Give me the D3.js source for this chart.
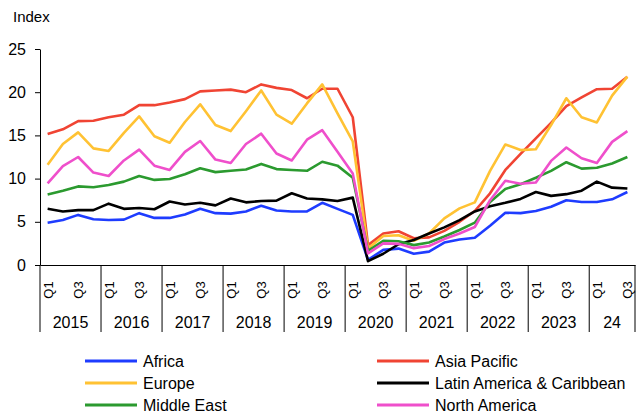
<!DOCTYPE html>
<html>
<head>
<meta charset="utf-8">
<script src="https://cdn.jsdelivr.net/npm/d3@7"></script>
<style>
  body { margin: 0; background: #fff; }
  svg { font-family: "Liberation Sans", Arial, sans-serif; }
  .eixo-texto { fill: #000; }
</style>
</head>
<body>
<div id="chart-container"></div>
<script>
// Anos e rótulos do eixo X (último ano aparece abreviado)
const anos = [2015, 2016, 2017, 2018, 2019, 2020, 2021, 2022, 2023, 2024];
const rotulosAno = ['2015', '2016', '2017', '2018', '2019', '2020', '2021', '2022', '2023', '24'];
const trimestresPorAno = [4, 4, 4, 4, 4, 4, 4, 4, 4, 3];
const rotulosTrimestre = ['Q1', '', 'Q3', ''];
const ticksY = [0, 5, 10, 15, 20, 25];

// Séries (valores trimestrais, 2015 Q1 .. 2024 Q3)
const africa = [4.9, 5.2, 5.8, 5.3, 5.2, 5.25, 6.0, 5.45, 5.45, 5.85, 6.5, 6.0,
  5.95, 6.2, 6.85, 6.3, 6.2, 6.2, 7.2, 6.5, 5.8, 0.6, 1.75, 1.9,
  1.3, 1.55, 2.6, 2.95, 3.15, 4.55, 6.05, 6.0, 6.25, 6.75, 7.5, 7.3, 7.3, 7.6, 8.45];
const asiaPacific = [15.15, 15.7, 16.65, 16.7, 17.1, 17.4, 18.5, 18.5, 18.8, 19.2, 20.1, 20.2,
  20.3, 20.0, 20.9, 20.5, 20.25, 19.3, 20.4, 20.4, 17.1, 2.3, 3.65, 3.9,
  3.1, 3.2, 3.95, 5.0, 6.25, 8.3, 11.0, 12.85, 14.65, 16.45, 18.4, 19.4, 20.35, 20.4, 21.8];
const europe = [11.6, 14.0, 15.35, 13.5, 13.2, 15.3, 17.2, 14.9, 14.15, 16.55, 18.6, 16.2,
  15.5, 17.8, 20.2, 17.4, 16.35, 18.7, 20.9, 17.55, 14.3, 1.9, 3.35, 3.45,
  2.8, 3.65, 5.4, 6.55, 7.25, 10.9, 13.95, 13.3, 13.4, 16.2, 19.3, 17.1, 16.5, 19.6, 21.8];
const latinAmerica = [6.5, 6.2, 6.35, 6.35, 7.1, 6.5, 6.6, 6.45, 7.35, 7.0, 7.2, 6.9,
  7.7, 7.25, 7.4, 7.45, 8.3, 7.7, 7.6, 7.4, 7.8, 0.45, 1.3, 2.4,
  2.9, 3.65, 4.35, 5.2, 6.2, 6.8, 7.2, 7.65, 8.45, 8.0, 8.2, 8.6, 9.65, 8.95, 8.85];
const middleEast = [8.15, 8.6, 9.1, 9.0, 9.25, 9.65, 10.3, 9.85, 9.95, 10.5, 11.2, 10.75,
  10.9, 11.05, 11.7, 11.1, 11.0, 10.9, 11.95, 11.5, 10.1, 1.65, 2.8, 2.75,
  2.3, 2.6, 3.3, 4.05, 4.9, 7.3, 8.8, 9.35, 10.1, 10.9, 11.9, 11.15, 11.25, 11.75, 12.5];
const northAmerica = [9.45, 11.45, 12.5, 10.7, 10.3, 12.1, 13.35, 11.5, 11.0, 13.1, 14.35, 12.2,
  11.8, 14.0, 15.2, 12.9, 12.1, 14.5, 15.6, 13.1, 10.6, 1.35, 2.5, 2.45,
  1.95, 2.2, 3.0, 3.65, 4.4, 7.5, 9.75, 9.4, 9.55, 12.05, 13.6, 12.35, 11.8, 14.25, 15.5];

const series = [
  { nome: 'Africa', cor: '#1e3cff', valores: africa },
  { nome: 'Asia Pacific', cor: '#f04433', valores: asiaPacific },
  { nome: 'Europe', cor: '#ffc233', valores: europe },
  { nome: 'Latin America & Caribbean', cor: '#000000', valores: latinAmerica },
  { nome: 'Middle East', cor: '#2b9a2f', valores: middleEast },
  { nome: 'North America', cor: '#ef4fcb', valores: northAmerica }
];

// categorias: um identificador por trimestre
const trimestres = [];
anos.forEach((a, i) => {
  for (let q = 0; q < trimestresPorAno[i]; q++) trimestres.push({ id: a + '-' + q, ano: a, q });
});

const W = 642, H = 414;
const plot = { left: 40, right: 635, top: 49, bottom: 265 };

const svg = d3.select('#chart-container')
  .append('svg')
  .attr('width', W)
  .attr('height', H);

const x = d3.scaleBand()
  .domain(trimestres.map(d => d.id))
  .range([plot.left, plot.right])
  .padding(0);

const y = d3.scaleLinear()
  .domain([0, 25])
  .range([plot.bottom, plot.top]);

// eixo Y
const eixoY = svg.append('g')
  .attr('transform', `translate(${plot.left},0)`)
  .call(d3.axisLeft(y).tickValues(ticksY).tickSize(5).tickPadding(9).tickSizeOuter(0));
eixoY.select('.domain').attr('stroke', '#000');
eixoY.selectAll('line').attr('stroke', '#000');
eixoY.selectAll('text').attr('class', 'eixo-texto').style('font-size', '16px');

// título do eixo
svg.append('text')
  .attr('x', 13)
  .attr('y', 22)
  .style('font-size', '15px')
  .text('Index');

// eixo X: linha base + rótulos de trimestre girados + separadores de ano
const eixoX = svg.append('g')
  .attr('transform', `translate(0,${plot.bottom})`)
  .call(d3.axisBottom(x).tickSize(0).tickFormat(() => '').tickSizeOuter(0));
eixoX.select('.domain').attr('stroke', '#000');

svg.append('g')
  .selectAll('text')
  .data(trimestres.filter(d => rotulosTrimestre[d.q] !== ''))
  .enter()
  .append('text')
  .attr('transform', d => `translate(${x(d.id) + x.bandwidth() / 2 + 5},${plot.bottom + 25}) rotate(-90)`)
  .attr('text-anchor', 'middle')
  .style('font-size', '13px')
  .text(d => rotulosTrimestre[d.q]);

const inicioAno = trimestres.filter(d => d.q === 0).map(d => x(d.id));
svg.append('g')
  .selectAll('line')
  .data(inicioAno.concat([plot.right]))
  .enter()
  .append('line')
  .attr('x1', d => d).attr('x2', d => d)
  .attr('y1', plot.bottom).attr('y2', plot.bottom + 67)
  .attr('stroke', '#000');

svg.append('g')
  .selectAll('text')
  .data(anos)
  .enter()
  .append('text')
  .attr('x', (a, i) => {
    const qs = trimestres.filter(d => d.ano === a);
    return (x(qs[0].id) + x(qs[qs.length - 1].id) + x.bandwidth()) / 2;
  })
  .attr('y', plot.bottom + 63)
  .attr('text-anchor', 'middle')
  .style('font-size', '16px')
  .text((a, i) => rotulosAno[i]);

// linhas das séries
const linha = d3.line()
  .x((v, i) => x(trimestres[i].id) + x.bandwidth() / 2)
  .y(v => y(v));

svg.append('g')
  .selectAll('path')
  .data(series)
  .enter()
  .append('path')
  .attr('d', s => linha(s.valores))
  .attr('fill', 'none')
  .attr('stroke', s => s.cor)
  .attr('stroke-width', 2.6)
  .attr('stroke-linejoin', 'round');

// legenda em duas colunas
const legenda = svg.append('g')
  .selectAll('g')
  .data(series)
  .enter()
  .append('g')
  .attr('transform', (s, i) => `translate(${i % 2 === 0 ? 85 : 377},${361 + Math.floor(i / 2) * 22})`);

legenda.append('line')
  .attr('x1', 0).attr('x2', 52)
  .attr('stroke', s => s.cor)
  .attr('stroke-width', 3);

legenda.append('text')
  .attr('x', 58)
  .attr('dy', '0.35em')
  .style('font-size', '16px')
  .text(s => s.nome);
</script>
</body>
</html>
